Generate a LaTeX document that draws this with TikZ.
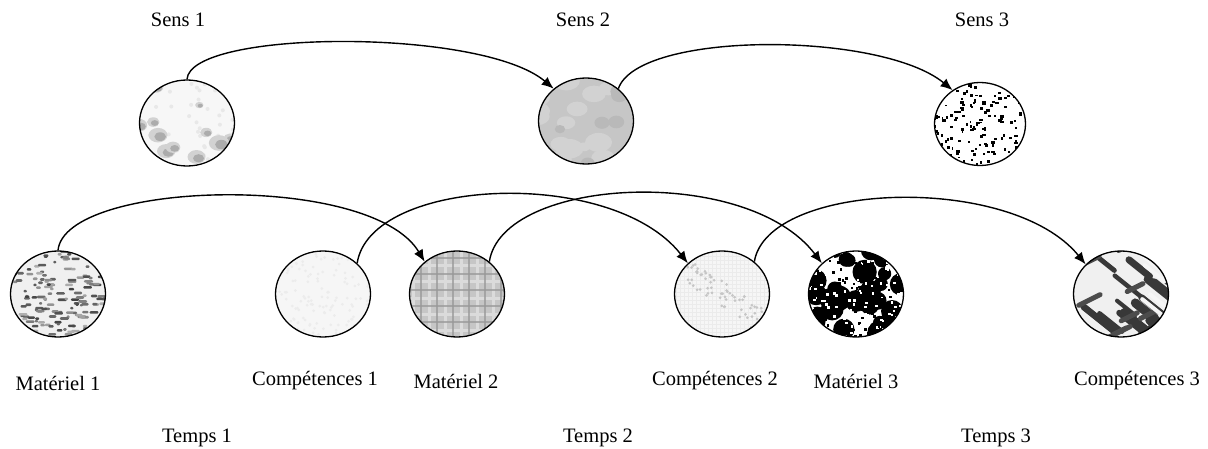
\documentclass[tikz,border=0pt]{standalone}
\usepackage{fontspec}
\setmainfont{Liberation Serif}
\usetikzlibrary{shapes.geometric,arrows.meta}
\newcommand\rpt{\pgfmathsetmacro\xx{rand*50}\pgfmathsetmacro\yy{rand*46}}
\newcommand\texSensA{%
  \pgfmathsetseed{11}%
  \coordinate (c) at (path picture bounding box.center);
  \fill[gray!6] (c) ++(-60,-60) rectangle ++(120,120);
  \foreach \i in {1,...,40}{\rpt \fill[gray!18] (c) ++(\xx,\yy) circle[radius=2];}
  \foreach \i in {1,...,16}{\rpt
    \pgfmathsetmacro\rr{3+5*rnd}
    \fill[gray!35] (c) ++(\xx,\yy) circle[x radius=1.3*\rr, y radius=\rr];
    \fill[gray!65] (c) ++(\xx,\yy) ++(0.3*\rr,0.2*\rr) circle[x radius=0.8*\rr, y radius=0.6*\rr];}
}
\newcommand\texSensB{%
  \pgfmathsetseed{23}%
  \coordinate (c) at (path picture bounding box.center);
  \fill[gray!45] (c) ++(-60,-60) rectangle ++(120,120);
  \foreach \i in {1,...,14}{\rpt
    \pgfmathsetmacro\rr{6+8*rnd}
    \fill[gray!35] (c) ++(\xx,\yy) circle[x radius=\rr, y radius=0.7*\rr];}
  \foreach \i in {1,...,8}{\rpt
    \pgfmathsetmacro\rr{5+6*rnd}
    \fill[gray!55] (c) ++(\xx,\yy) circle[x radius=\rr, y radius=0.8*\rr];}
}
\newcommand\texSensC{%
  \pgfmathsetseed{37}%
  \coordinate (c) at (path picture bounding box.center);
  \foreach \i in {1,...,190}{\rpt
    \pgfmathsetmacro\ww{1.5+2.5*rnd}\pgfmathsetmacro\hh{1.5+2*rnd}
    \fill[black] (c) ++(\xx,\yy) rectangle ++(\ww,\hh);}
}
\newcommand\texMatA{%
  \pgfmathsetseed{41}%
  \coordinate (c) at (path picture bounding box.center);
  \fill[gray!12] (c) ++(-60,-60) rectangle ++(120,120);
  \foreach \i in {1,...,180}{\rpt
    \pgfmathsetmacro\ww{3+6*rnd}\pgfmathsetmacro\gg{30+45*rnd}
    \fill[black!\gg,rounded corners=1pt] (c) ++(\xx,\yy) rectangle ++(\ww,2.6);}
}
\newcommand\texCompA{%
  \pgfmathsetseed{53}%
  \coordinate (c) at (path picture bounding box.center);
  \fill[gray!7] (c) ++(-60,-60) rectangle ++(120,120);
  \foreach \i in {1,...,180}{\rpt \fill[gray!15] (c) ++(\xx,\yy) circle[radius=1.5];}
}
\newcommand\texMatB{%
  \coordinate (c) at (path picture bounding box.center);
  \fill[gray!45] (c) ++(-60,-60) rectangle ++(120,120);
  \foreach \k in {-52,-36,...,52}{
    \draw[gray!28,line width=3pt] (c) ++(\k+8,-60) -- ++(0,120);
    \draw[gray!28,line width=3pt] (c) ++(-60,\k+8) -- ++(120,0);}
  \foreach \k in {-52,-36,...,52}{
    \draw[gray!80,line width=2.5pt,opacity=.75] (c) ++(\k,-60) -- ++(0,120);
    \draw[gray!80,line width=2.5pt,opacity=.75] (c) ++(-60,\k) -- ++(120,0);}
}
\newcommand\texCompB{%
  \pgfmathsetseed{67}%
  \coordinate (c) at (path picture bounding box.center);
  \fill[gray!7] (c) ++(-60,-60) rectangle ++(120,120);
  \foreach \k in {-50,-46,...,50}{
    \draw[gray!16,line width=.6pt] (c) ++(\k,-60) -- ++(0,120);
    \draw[gray!16,line width=.6pt] (c) ++(-60,\k) -- ++(120,0);}
  \foreach \i in {1,...,70}{\pgfmathsetmacro\tt{rand*40}\pgfmathsetmacro\oo{rand*10}
    \fill[gray!45] (c) ++(\tt+0.5*\oo,0.7*\tt-\oo) circle[radius=1.5];}
}
\newcommand\texMatC{%
  \pgfmathsetseed{79}%
  \coordinate (c) at (path picture bounding box.center);
  \foreach \i in {1,...,34}{\rpt
    \pgfmathsetmacro\rr{6+7*rnd}
    \fill[black] (c) ++(\xx,\yy) circle[radius=\rr];}
  \foreach \i in {1,...,150}{\rpt \fill[white] (c) ++(\xx,\yy) rectangle ++(2.5,2.5);}
  \foreach \i in {1,...,130}{\rpt \fill[black] (c) ++(\xx,\yy) rectangle ++(2.5,2.5);}
}
\newcommand\texCompC{%
  \pgfmathsetseed{97}%
  \coordinate (c) at (path picture bounding box.center);
  \fill[gray!12] (c) ++(-60,-60) rectangle ++(120,120);
  \foreach \i in {1,...,18}{\rpt
    \pgfmathsetmacro\ll{18+25*rnd}\pgfmathsetmacro\lw{4+5*rnd}
    \draw[black!78,line width=\lw pt,line cap=round] (c) ++(\xx,\yy) -- ++(\ll,0.8*\ll);}
  \foreach \i in {1,...,10}{\rpt
    \pgfmathsetmacro\ll{10+15*rnd}
    \draw[black!70,line width=5pt,line cap=round] (c) ++(\xx,\yy) -- ++(\ll,-0.5*\ll);}
  \foreach \i in {1,...,8}{\rpt
    \draw[gray!8,line width=4pt,line cap=round] (c) ++(\xx,\yy) -- ++(20,16);}
}
\begin{document}
\begin{tikzpicture}[x=1pt,y=-1pt,
  ball/.style={ellipse, draw, line width=1.3pt, minimum width=95pt, minimum height=86pt, inner sep=0pt},
  lbl/.style={font=\fontsize{20.5}{24}\selectfont, inner sep=0pt},
  arr/.style={line width=1.4pt, -{Latex[length=12pt,width=10pt]}}]
\useasboundingbox (0,0) rectangle (1208,449);
% balls
\node[ball,path picture={\texSensA}] (s1) at (187,123) {};
\node[ball,path picture={\texSensB}] (s2) at (586,121) {};
\node[ball,minimum width=91pt,minimum height=83pt,path picture={\texSensC}] (s3) at (980,124) {};
\node[ball,path picture={\texMatA}] (m1) at (58,294) {};
\node[ball,path picture={\texCompA}] (c1) at (323,294) {};
\node[ball,path picture={\texMatB}] (m2) at (457,294) {};
\node[ball,path picture={\texCompB}] (c2) at (722,294) {};
\node[ball,path picture={\texMatC}] (m3) at (856,294) {};
\node[ball,path picture={\texCompC}] (c3) at (1121,294) {};
% labels
\node[lbl] (ls1) at (178,20) {Sens 1};
\node[lbl] (ls2) at (583,20) {Sens 2};
\node[lbl] (ls3) at (982,20) {Sens 3};
\node[lbl] (lm1) at (58,383) {Matériel 1};
\node[lbl] (lc1) at (315,381) {Compétences 1};
\node[lbl] (lm2) at (456,381) {Matériel 2};
\node[lbl] (lc2) at (715,381) {Compétences 2};
\node[lbl] (lm3) at (856,381) {Matériel 3};
\node[lbl] (lc3) at (1137,381) {Compétences 3};
\node[lbl] (lt1) at (197,438) {Temps 1};
\node[lbl] (lt2) at (598,438) {Temps 2};
\node[lbl] (lt3) at (996,438) {Temps 3};
% arrows
\draw[arr] (s1.north) .. controls +(3,-50) and +(-72,-61) .. (s2.135);
\draw[arr] (s2.45) .. controls +(20,-58) and +(-72,-59) .. (s3.129);
\draw[arr] (m1.north) .. controls +(7,-70) and +(-54,-90) .. (m2.135);
\draw[arr] (c1.42) .. controls +(13,-86) and +(-76,-97) .. (c2.138);
\draw[arr] (m2.45) .. controls +(13,-85) and +(-75,-99) .. (m3.138);
\draw[arr] (c2.45) .. controls +(13,-80) and +(-75,-92) .. (c3.140);
\end{tikzpicture}
\end{document}
